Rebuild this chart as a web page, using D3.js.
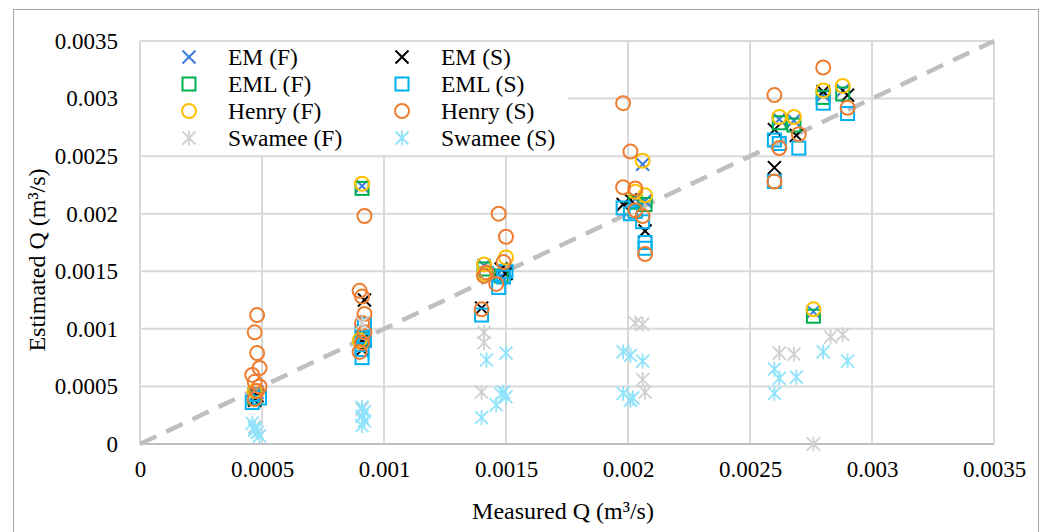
<!DOCTYPE html>
<html>
<head>
<meta charset="utf-8">
<script src="https://cdn.jsdelivr.net/npm/d3@7"></script>
<style>
  body { margin: 0; background: #fff; }
  svg text { font-family: "Liberation Serif", "Times New Roman", serif; fill: #000; }
</style>
</head>
<body>
<script>
// tick values, same on both axes
var tickVals = [0, 0.0005, 0.001, 0.0015, 0.002, 0.0025, 0.003, 0.0035];

// [measured, estimated] per series
var emF = [[0.00047,0.00042],[0.00048,0.00045],[0.00091,0.00224],[0.00091,0.00095],[0.00092,0.0009],
  [0.00141,0.00155],[0.0015,0.0015],[0.00147,0.00148],[0.00206,0.00243],[0.00203,0.00213],[0.00207,0.00211],
  [0.00262,0.00282],[0.00268,0.00281],[0.00276,0.00115],[0.0028,0.00303],[0.00288,0.00307]];
var emS = [[0.00047,0.00038],[0.00048,0.00042],[0.00092,0.00125],[0.00091,0.0009],[0.00091,0.00082],
  [0.0014,0.00118],[0.00148,0.00152],[0.0015,0.00148],[0.00198,0.00208],[0.00201,0.00212],[0.00207,0.00185],
  [0.0026,0.0024],[0.0026,0.00273],[0.00269,0.00268],[0.0028,0.00306],[0.0029,0.00303]];
var emlF = [[0.00047,0.0004],[0.00091,0.00222],[0.00091,0.00092],[0.00141,0.00152],[0.00148,0.00146],
  [0.00203,0.0021],[0.00207,0.00208],[0.00262,0.00279],[0.00268,0.00277],[0.00276,0.00111],
  [0.0028,0.00301],[0.00288,0.00304]];
var emlS = [[0.00046,0.00036],[0.00047,0.00043],[0.00049,0.0004],[0.00091,0.00075],[0.00091,0.00082],
  [0.00092,0.0009],[0.00091,0.00097],[0.00092,0.00104],[0.0014,0.00112],[0.00147,0.00136],[0.00149,0.00145],
  [0.0015,0.0015],[0.00142,0.00148],[0.00198,0.00205],[0.00201,0.002],[0.00203,0.00202],[0.00206,0.00193],
  [0.00207,0.00175],[0.00207,0.0017],[0.0026,0.00228],[0.0026,0.00264],[0.00262,0.00261],[0.0027,0.00257],
  [0.0028,0.00296],[0.0029,0.00287]];
var henryF = [[0.00047,0.00046],[0.00091,0.00226],[0.0009,0.0009],[0.00141,0.00156],[0.0015,0.00162],
  [0.00141,0.00148],[0.00206,0.00246],[0.00207,0.00216],[0.00203,0.00219],[0.00262,0.00284],
  [0.00268,0.00284],[0.00276,0.00117],[0.0028,0.00307],[0.00288,0.00311]];
var henryS = [[0.00048,0.00112],[0.00047,0.00097],[0.00048,0.00079],[0.00049,0.00066],[0.00046,0.0006],
  [0.00047,0.00054],[0.00049,0.0005],[0.00048,0.00046],[0.00047,0.00039],[0.00092,0.00198],[0.0009,0.00133],
  [0.00091,0.00128],[0.00092,0.00113],[0.00091,0.00105],[0.00092,0.00097],[0.00091,0.00088],[0.0009,0.0008],
  [0.00147,0.002],[0.0015,0.0018],[0.00149,0.00158],[0.00142,0.00149],[0.00141,0.00146],[0.00146,0.00139],
  [0.0014,0.00117],[0.00198,0.00296],[0.00201,0.00254],[0.00198,0.00223],[0.00203,0.00222],[0.00203,0.00203],
  [0.00206,0.00198],[0.00207,0.00165],[0.0026,0.00303],[0.0026,0.00228],[0.00262,0.00257],[0.0027,0.00269],
  [0.0028,0.00327],[0.0029,0.00292]];
var swameeF = [[0.00047,0.00015],[0.00091,0.00105],[0.00091,0.0003],[0.00141,0.00097],[0.00141,0.00088],
  [0.0014,0.00045],[0.00203,0.00105],[0.00206,0.00104],[0.00206,0.00056],[0.00207,0.00045],
  [0.00262,0.00079],[0.00268,0.00078],[0.00276,0],[0.00283,0.00093],[0.00288,0.00095]];
var swameeS = [[0.00046,0.00018],[0.00047,0.00014],[0.00048,0.0001],[0.00049,0.00007],[0.00047,0.00012],
  [0.00091,0.00032],[0.00092,0.00028],[0.00091,0.00024],[0.00092,0.0002],[0.00091,0.00016],
  [0.00142,0.00073],[0.0015,0.00079],[0.00149,0.00045],[0.00148,0.00043],[0.0015,0.00041],[0.00146,0.00034],
  [0.0014,0.00023],[0.00198,0.0008],[0.00201,0.00077],[0.00206,0.00072],[0.00198,0.00044],[0.00201,0.00038],
  [0.00202,0.0004],[0.0026,0.00065],[0.00262,0.00057],[0.00269,0.00058],[0.0026,0.00044],[0.0028,0.0008],
  [0.0029,0.00072]];

// legend order (row by row, two columns), also draw order
var series = [
  {name:'EM (F)', data:emF, shape:'x', color:'#3b7ddd'},
  {name:'EM (S)', data:emS, shape:'x', color:'#000000'},
  {name:'EML (F)', data:emlF, shape:'square', color:'#00b050'},
  {name:'EML (S)', data:emlS, shape:'square', color:'#00b0f0'},
  {name:'Henry (F)', data:henryF, shape:'circle', color:'#ffc000'},
  {name:'Henry (S)', data:henryS, shape:'circle', color:'#ed7d31'},
  {name:'Swamee (F)', data:swameeF, shape:'star', color:'#d0d0d0'},
  {name:'Swamee (S)', data:swameeS, shape:'star', color:'#8fe3fb'}
];

var W = 1051, H = 532;
var plotL = 140, plotR = 994, plotT = 41, plotB = 444;

var svg = d3.select('body').append('svg').attr('width', W).attr('height', H);

svg.append('rect').attr('x', 13.5).attr('y', 9.5).attr('width', 1025).attr('height', 530)
  .attr('fill', '#fff').attr('stroke', '#a6a6a6').attr('stroke-width', 1);

var x = d3.scaleLinear().domain([0, 0.0035]).range([plotL, plotR]);
var y = d3.scaleLinear().domain([0, 0.0035]).range([plotB, plotT]);
var fmt = function(d){ return d === 0 ? '0' : d3.format('~g')(d); };

// gridlines
var grid = svg.append('g');
grid.selectAll('.gx').data(tickVals.slice(1)).enter().append('line')
  .attr('x1', d => x(d)).attr('x2', d => x(d)).attr('y1', plotT).attr('y2', plotB)
  .attr('stroke', '#d9d9d9').attr('stroke-width', 2);
grid.selectAll('.gy').data(tickVals.slice(1)).enter().append('line')
  .attr('x1', plotL).attr('x2', plotR).attr('y1', d => y(d)).attr('y2', d => y(d))
  .attr('stroke', '#d9d9d9').attr('stroke-width', 2);
grid.append('line').attr('x1', plotL).attr('x2', plotL).attr('y1', plotT).attr('y2', plotB)
  .attr('stroke', '#d9d9d9').attr('stroke-width', 2);
grid.append('line').attr('x1', plotL).attr('x2', plotR).attr('y1', plotB).attr('y2', plotB)
  .attr('stroke', '#bfbfbf').attr('stroke-width', 2);

// axes labels
var xAxis = svg.append('g').attr('transform', 'translate(0,' + plotB + ')')
  .call(d3.axisBottom(x).tickValues(tickVals).tickFormat(fmt).tickSize(0).tickPadding(17));
var yAxis = svg.append('g').attr('transform', 'translate(' + plotL + ',0)')
  .call(d3.axisLeft(y).tickValues(tickVals).tickFormat(fmt).tickSize(0).tickPadding(22));
[xAxis, yAxis].forEach(function(a){
  a.select('.domain').remove();
  a.selectAll('text').style('font-size', '23px').style('font-family', '"Liberation Serif", serif');
});

svg.append('text').attr('x', 563).attr('y', 519).attr('text-anchor', 'middle')
  .style('font-size', '24px').text('Measured Q (m³/s)');
svg.append('text').attr('transform', 'translate(45,260) rotate(-90)').attr('text-anchor', 'middle')
  .style('font-size', '24px').text('Estimated Q (m³/s)');

// 1:1 line
svg.append('line').attr('x1', x(0)).attr('y1', y(0)).attr('x2', x(0.0035)).attr('y2', y(0.0035))
  .attr('stroke', '#bfbfbf').attr('stroke-width', 4.5).attr('stroke-dasharray', '18,11');

function drawMarker(g, shape, color){
  var r = 6.5;
  if(shape === 'x'){
    g.append('path').attr('d', 'M' + (-r) + ',' + (-r) + 'L' + r + ',' + r + 'M' + (-r) + ',' + r + 'L' + r + ',' + (-r))
      .attr('stroke', color).attr('stroke-width', 2).attr('fill', 'none');
  } else if(shape === 'square'){
    g.append('rect').attr('x', -r).attr('y', -r).attr('width', 2*r).attr('height', 2*r)
      .attr('stroke', color).attr('stroke-width', 2).attr('fill', 'none');
  } else if(shape === 'circle'){
    g.append('circle').attr('r', r + 0.5)
      .attr('stroke', color).attr('stroke-width', 2).attr('fill', 'none');
  } else {
    g.append('path').attr('d', 'M' + (-r) + ',' + (-r) + 'L' + r + ',' + r + 'M' + (-r) + ',' + r + 'L' + r + ',' + (-r) +
      'M0,' + (-r - 1) + 'L0,' + (r + 1))
      .attr('stroke', color).attr('stroke-width', 1.8).attr('fill', 'none');
  }
}

// points
series.forEach(function(s){
  var g = svg.append('g');
  g.selectAll('g').data(s.data).enter().append('g')
    .attr('transform', d => 'translate(' + x(d[0]) + ',' + y(d[1]) + ')')
    .each(function(){ drawMarker(d3.select(this), s.shape, s.color); });
});

// legend
var legend = svg.append('g');
legend.append('rect').attr('x', 141).attr('y', 42).attr('width', 427).attr('height', 113).attr('fill', '#fff');
var item = legend.selectAll('.item').data(series).enter().append('g')
  .attr('transform', (d, i) => 'translate(' + (i % 2 === 0 ? 189 : 402) + ',' + (57 + Math.floor(i / 2) * 27) + ')');
item.each(function(d){ drawMarker(d3.select(this), d.shape, d.color); });
item.append('text').attr('x', 39).attr('y', 8).style('font-size', '23.5px').text(d => d.name);
</script>
</body>
</html>
